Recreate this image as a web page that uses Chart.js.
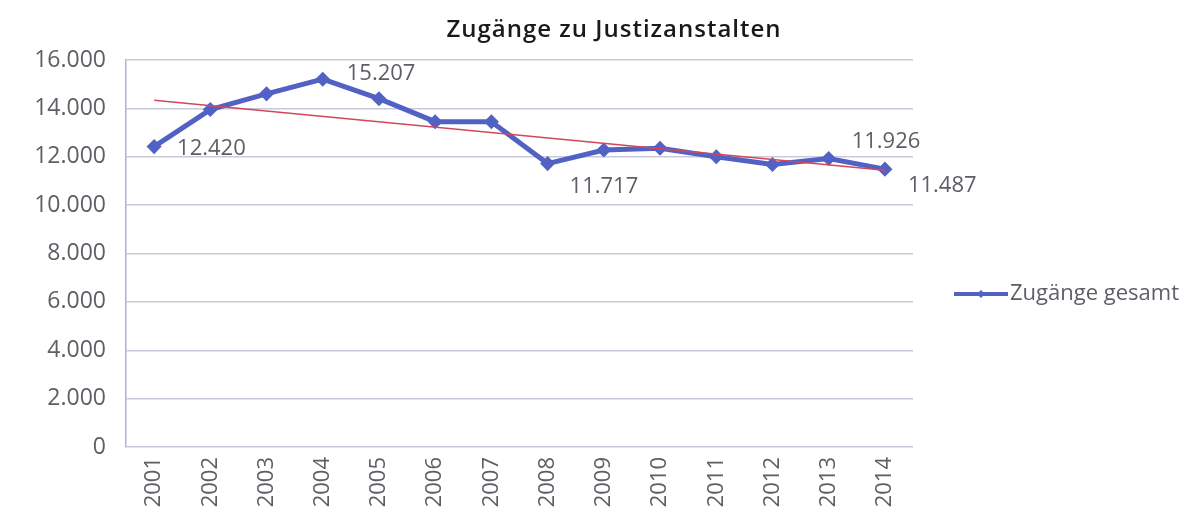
<!DOCTYPE html>
<html lang="de">
<head>
    <meta charset="UTF-8">
    <title>Zugänge zu Justizanstalten</title>
    <script src="https://cdn.jsdelivr.net/npm/chart.js"></script>
    <style>
        body {
            margin: 0;
            padding: 0;
            background: #ffffff;
        }
        .wrap {
            position: relative;
            width: 1193px;
            height: 515px;
        }
    </style>
</head>
<body>
    <div class="wrap">
        <canvas id="chart"></canvas>
    </div>
    <script>
        // data
        const years = ['2001', '2002', '2003', '2004', '2005', '2006', '2007',
                       '2008', '2009', '2010', '2011', '2012', '2013', '2014'];
        const zugaenge = [12420, 13950, 14600, 15207, 14400, 13450, 13450,
                          11717, 12280, 12350, 12000, 11680, 11926, 11487];
        const trend = [14340, null, null, null, null, null, null,
                       null, null, null, null, null, null, 11440];
        const labelledIdx = [0, 3, 7, 12, 13];
        const yTicks = [0, 2000, 4000, 6000, 8000, 10000, 12000, 14000, 16000];

        const titleText = 'Zugänge zu Justizanstalten';
        const legendText = 'Zugänge gesamt';
        const blue = '#5262c4';
        const textGray = '#5e5e66';

        const fmt = v => v.toLocaleString('de-DE');

        // offsets of the value labels from their points
        const labelOffsets = {
            0: [23, 2],
            3: [24, -5],
            7: [22, 23],
            12: [23, -17],
            13: [23, 17]
        };

        const extras = {
            id: 'extras',
            afterDatasetsDraw(chart) {
                const ctx = chart.ctx;
                const meta = chart.getDatasetMeta(0);
                ctx.save();
                ctx.font = '22px "Open Sans"';
                ctx.fillStyle = textGray;
                ctx.textAlign = 'left';
                ctx.textBaseline = 'middle';
                labelledIdx.forEach(i => {
                    const p = meta.data[i];
                    const off = labelOffsets[i];
                    ctx.fillText(fmt(zugaenge[i]), p.x + off[0], p.y + off[1]);
                });

                // title
                ctx.font = '600 24px "Open Sans"';
                ctx.letterSpacing = '1px';
                ctx.fillStyle = '#1a1a1a';
                ctx.textAlign = 'center';
                ctx.fillText(titleText, 614, 30);
                ctx.letterSpacing = '0px';

                // legend
                const ly = 294;
                ctx.strokeStyle = blue;
                ctx.lineWidth = 4;
                ctx.beginPath();
                ctx.moveTo(954, ly);
                ctx.lineTo(1008, ly);
                ctx.stroke();
                ctx.fillStyle = blue;
                ctx.beginPath();
                ctx.moveTo(981, ly - 4);
                ctx.lineTo(985, ly);
                ctx.lineTo(981, ly + 4);
                ctx.lineTo(977, ly);
                ctx.closePath();
                ctx.fill();
                ctx.font = '22px "Open Sans"';
                ctx.fillStyle = textGray;
                ctx.textAlign = 'left';
                ctx.fillText(legendText, 1010, ly);
                ctx.restore();
            }
        };

        new Chart(document.getElementById('chart'), {
            type: 'line',
            data: {
                labels: years,
                datasets: [{
                    label: legendText,
                    data: zugaenge,
                    borderColor: blue,
                    backgroundColor: blue,
                    borderWidth: 5,
                    pointStyle: 'rectRot',
                    pointRadius: 4,
                    tension: 0,
                    order: 2
                }, {
                    label: 'Trend',
                    data: trend,
                    borderColor: '#d0485a',
                    borderWidth: 1.5,
                    pointRadius: 0,
                    spanGaps: true,
                    order: 1
                }]
            },
            options: {
                responsive: true,
                maintainAspectRatio: false,
                animation: false,
                layout: {
                    padding: { left: 0, right: 280, top: 60, bottom: 0 }
                },
                plugins: {
                    legend: { display: false },
                    title: { display: false },
                    tooltip: { enabled: false }
                },
                scales: {
                    x: {
                        offset: true,
                        grid: { display: false, drawTicks: false },
                        border: { display: false },
                        ticks: {
                            minRotation: 90,
                            maxRotation: 90,
                            padding: 10,
                            color: textGray,
                            font: { family: 'Open Sans', size: 22 }
                        },
                        afterFit(scale) { scale.height = 68; }
                    },
                    y: {
                        min: 0,
                        max: 16000,
                        afterBuildTicks(scale) {
                            scale.ticks = yTicks.map(v => ({ value: v }));
                        },
                        grid: { color: '#c9c9d9', lineWidth: 1.5, drawTicks: false },
                        border: { color: '#b0b0dc', width: 1.5 },
                        ticks: {
                            padding: 20,
                            color: textGray,
                            font: { family: 'Open Sans', size: 23 },
                            callback: v => fmt(v)
                        },
                        afterFit(scale) { scale.width = 126; }
                    }
                }
            },
            plugins: [extras]
        });
    </script>
</body>
</html>
